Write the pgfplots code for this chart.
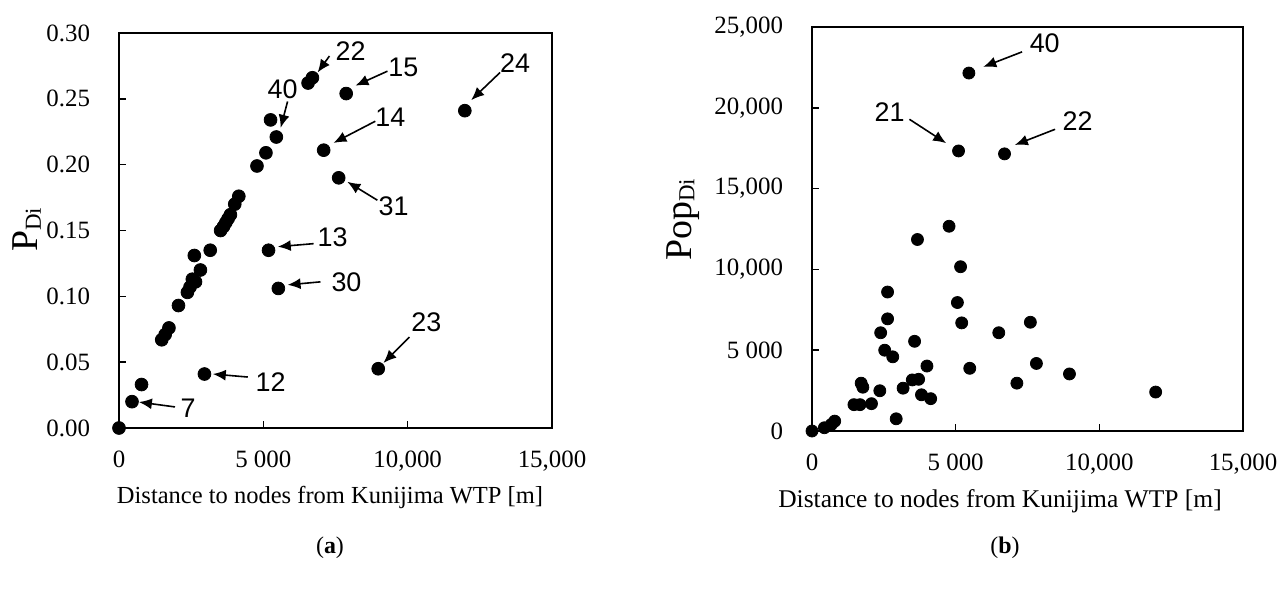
\documentclass[border=0pt]{standalone}
\usepackage{fontspec}
\setmainfont{Liberation Serif}
\newfontfamily\arialf{Liberation Sans}
\usepackage{pgfplots}
\pgfplotsset{compat=1.18}
\usetikzlibrary{arrows.meta}

\pgfplotsset{
  myax/.style={
    scale only axis, anchor=south west,
    clip=false, scaled ticks=false,
    tick pos=left, tick align=inside,
    major tick length=3.5bp,
    axis line style={line width=1bp},
    every tick/.style={line width=0.8bp,black},
    xmin=0, xmax=15000,
    xtick={0,5000,10000,15000},
    xticklabels={0,{5 000},{10,000},{15,000}},
    ticklabel style={font=\fontsize{12.5}{14}\selectfont},
    xticklabel style={yshift=-8bp},
    yticklabel style={xshift=-11bp},
    /pgf/number format/assume math mode=true,
  },
  dots/.style={only marks, mark=*, mark size=3.2bp, black, mark options={fill=black}},
}
\tikzset{
  ann/.style={font=\arialf\fontsize{13.5}{15}\selectfont, inner sep=0pt},
  arr/.style={-{Latex[length=6.5bp,width=5.5bp]}, line width=0.8bp, black},
}

\begin{document}
\begin{tikzpicture}
\path[use as bounding box] (0bp,0bp) rectangle (639.5bp,294.5bp);

% ---------- (a) ----------
\begin{axis}[myax, at={(59.5bp,80.5bp)}, width=216.5bp, height=197.5bp,
  ymin=0, ymax=0.30,
  ytick={0,0.05,0.10,0.15,0.20,0.25,0.30},
  yticklabels={0.00,0.05,0.10,0.15,0.20,0.25,0.30}]
\addplot[dots] table {
x y
0 0
450 0.020
780 0.033
1480 0.067
1600 0.071
1730 0.076
2060 0.093
2370 0.103
2460 0.107
2540 0.113
2650 0.111
2820 0.120
2610 0.131
3160 0.135
3520 0.150
3620 0.153
3700 0.156
3780 0.159
3860 0.162
4010 0.170
4150 0.176
4780 0.199
5090 0.209
5250 0.234
5450 0.221
6550 0.262
6700 0.266
7870 0.254
7090 0.211
7610 0.190
5180 0.135
5520 0.106
8980 0.045
2960 0.041
11980 0.241
};
\draw[arr] (axis cs:7290,0.2825) -- (axis cs:6880,0.270);
\node[ann] at (axis cs:8020,0.286) {22};
\draw[arr] (axis cs:9300,0.271) -- (axis cs:8190,0.260);
\node[ann] at (axis cs:9850,0.274) {15};
\draw[arr] (axis cs:5840,0.248) -- (axis cs:5600,0.228);
\node[ann] at (axis cs:5670,0.257) {40};
\draw[arr] (axis cs:8880,0.233) -- (axis cs:7430,0.2165);
\node[ann] at (axis cs:9400,0.236) {14};
\draw[arr] (axis cs:8950,0.173) -- (axis cs:7910,0.187);
\node[ann] at (axis cs:9510,0.1686) {31};
\draw[arr] (axis cs:13200,0.270) -- (axis cs:12200,0.249);
\node[ann] at (axis cs:13720,0.277) {24};
\draw[arr] (axis cs:6740,0.140) -- (axis cs:5500,0.1377);
\node[ann] at (axis cs:7400,0.145) {13};
\draw[arr] (axis cs:6980,0.111) -- (axis cs:5840,0.1087);
\node[ann] at (axis cs:7880,0.111) {30};
\draw[arr] (axis cs:10060,0.069) -- (axis cs:9160,0.0494);
\node[ann] at (axis cs:10650,0.080) {23};
\draw[arr] (axis cs:4460,0.0387) -- (axis cs:3250,0.041);
\node[ann] at (axis cs:5250,0.035) {12};
\draw[arr] (axis cs:1940,0.016) -- (axis cs:690,0.0197);
\node[ann] at (axis cs:2390,0.0152) {7};
\end{axis}

% ---------- (b) ----------
\begin{axis}[myax, at={(406bp,79bp)}, width=215.5bp, height=202bp,
  ymin=0, ymax=25000,
  ytick={0,5000,10000,15000,20000,25000},
  yticklabels={0,{5 000},{10,000},{15,000},{20,000},{25,000}}]
\addplot[dots, mark size=3bp] table {
x y
5460 22150
5100 17330
6700 17150
4770 12670
3670 11850
5170 10165
2630 8600
5060 7950
2630 6940
5210 6690
7600 6730
6500 6080
2390 6080
3570 5550
2530 5000
2810 4590
4000 4020
5490 3880
7810 4180
8960 3530
1710 2960
1770 2710
2360 2490
3170 2650
3490 3160
3710 3200
3810 2240
4130 2000
7130 2960
11960 2410
1460 1630
1670 1630
2070 1690
2930 755
0 0
430 200
670 400
790 610
};
\draw[arr] (axis cs:7310,23460) -- (axis cs:5960,22530);
\node[ann] at (axis cs:8100,23970) {40};
\draw[arr] (axis cs:3390,19290) -- (axis cs:4670,17810);
\node[ann] at (axis cs:2700,19760) {21};
\draw[arr] (axis cs:8460,18670) -- (axis cs:7060,17700);
\node[ann] at (axis cs:9240,19200) {22};
\end{axis}

% ---------- labels ----------
\node[font=\fontsize{12.3}{14}\selectfont] at (165bp,46bp) {Distance to nodes from Kunijima WTP [m]};
\node[font=\fontsize{12.8}{14}\selectfont] at (500bp,44bp) {Distance to nodes from Kunijima WTP [m]};
\node[rotate=90] at (13.5bp,179.5bp) {{\fontsize{19}{20}\selectfont P}\raisebox{-1.5bp}{\fontsize{11.5}{12}\selectfont Di}};
\node[rotate=90] at (341.5bp,184.5bp) {{\fontsize{19}{20}\selectfont Pop}\raisebox{-1.5bp}{\fontsize{11.5}{12}\selectfont Di}};
\node[font=\fontsize{12}{14}\selectfont] at (165bp,20.5bp) {(\textbf{a})};
\node[font=\fontsize{12}{14}\selectfont] at (502.5bp,20.5bp) {(\textbf{b})};
\end{tikzpicture}
\end{document}
